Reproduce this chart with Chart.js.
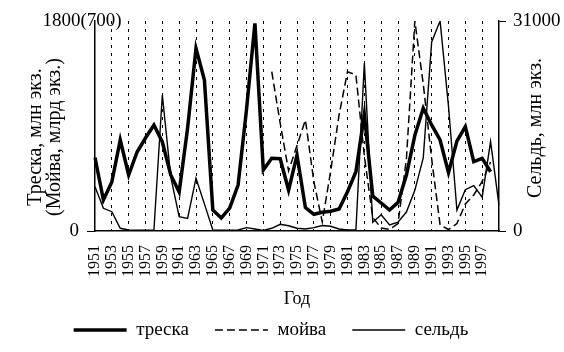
<!DOCTYPE html>
<html>
<head>
<meta charset="utf-8">
<script src="https://cdn.jsdelivr.net/npm/chart.js@4/dist/chart.umd.min.js"></script>
<style>
  html, body { margin: 0; padding: 0; background: #fff; }
  #wrap { width: 564px; height: 352px; }
</style>
</head>
<body>
<div id="wrap"><canvas id="chart" width="564" height="352"></canvas></div>
<script>
// years on the x axis
const years = [1951, 1952, 1953, 1954, 1955, 1956, 1957, 1958, 1959, 1960,
               1961, 1962, 1963, 1964, 1965, 1966, 1967, 1968, 1969, 1970,
               1971, 1972, 1973, 1974, 1975, 1976, 1977, 1978, 1979, 1980,
               1981, 1982, 1983, 1984, 1985, 1986, 1987, 1988, 1989, 1990,
               1991, 1992, 1993, 1994, 1995, 1996, 1997, 1998, 1999];

// треска, млн экз. (left axis 0..1800)
const cod = [630, 266, 420, 780, 480, 677, 797, 908, 763, 480,
             334, 880, 1565, 1294, 180, 111, 197, 394, 1040, 1780,
             523, 623, 620, 351, 651, 200, 143, 160, 170, 189,
             337, 508, 1000, 300, 240, 180, 245, 480, 820, 1052,
             909, 780, 500, 770, 894, 594, 623, 508, null];

// мойва, млрд экз. (left axis, 0..700 in brackets)
const capelin = [null, null, null, null, null, null, null, null, null, null,
                 null, null, null, null, null, null, null, null, null, null,
                 null, 531, 360, 200, 285, 370, 165, 30, 200, 387,
                 531, 520, 250, 45, 10, 5, 25, 240, 700, 490,
                 240, 20, 5, 25, 90, 120, 165, 230, null];

// сельдь, млн экз. (right axis 0..31000)
const herring = [6540, 3350, 2850, 400, 150, 100, 100, 100, 20070, 8000,
                 2110, 1870, 7800, 4000, 150, 100, 100, 150, 500, 300,
                 100, 400, 990, 780, 400, 300, 500, 800, 700, 300,
                 150, 150, 24750, 1300, 2400, 900, 1300, 2800, 6000, 10800,
                 27900, 31000, 18400, 3100, 6100, 6700, 5000, 13200, 3800];

const codMax = 1800;
const capelinMax = 700;
const herringMax = 31000;

const serif = '"Liberation Serif", "Times New Roman", serif';
Chart.defaults.font.family = serif;
Chart.defaults.color = '#000';

// texts that the axes can't place themselves
const axisText = {
  id: 'axisText',
  afterDraw(chart) {
    const { ctx, scales } = chart;
    ctx.save();
    ctx.fillStyle = '#000';
    ctx.textAlign = 'center';
    ctx.textBaseline = 'middle';
    ctx.font = '19px ' + serif;
    ctx.fillText('1800(700)', 82, scales.y.getPixelForValue(codMax));

    ctx.font = '20px ' + serif;
    ctx.save();
    ctx.translate(36, 137);
    ctx.rotate(-Math.PI / 2);
    ctx.fillText('Треска, млн экз.', 0, 0);
    ctx.fillText('(Мойва, млрд экз.)', 0, 19);
    ctx.restore();

    ctx.save();
    ctx.translate(536, 128);
    ctx.rotate(-Math.PI / 2);
    ctx.fillText('Сельдь, млн экз.', 0, 0);
    ctx.restore();
    ctx.restore();
  }
};

// legend sits a bit left of the canvas centre in the original
const legendShift = {
  id: 'legendShift',
  afterLayout(chart) {
    chart.legend.left -= 11;
    chart.legend.right -= 11;
  }
};

new Chart(document.getElementById('chart'), {
  type: 'line',
  data: {
    labels: years,
    datasets: [
      { label: 'треска', data: cod, yAxisID: 'y', borderColor: '#000', borderWidth: 3.5,
        pointRadius: 0, tension: 0 },
      { label: 'мойва', data: capelin, yAxisID: 'yc', borderColor: '#000', borderWidth: 1.5,
        borderDash: [8, 4], pointRadius: 0, tension: 0 },
      { label: 'сельдь', data: herring, yAxisID: 'y2', borderColor: '#000', borderWidth: 1.4,
        pointRadius: 0, tension: 0 }
    ]
  },
  options: {
    responsive: false,
    animation: false,
    layout: { padding: { left: 0, right: 0, top: 21, bottom: 2.5 } },
    plugins: {
      legend: {
        position: 'bottom',
        labels: {
          usePointStyle: true, pointStyle: 'line', pointStyleWidth: 53,
          font: { size: 19 }, padding: 26, color: '#000',
          generateLabels: chart => Chart.defaults.plugins.legend.labels.generateLabels(chart)
            .map((l, i) => ({
              ...l,
              lineDash: chart.data.datasets[i].borderDash || [],
              lineWidth: chart.data.datasets[i].borderWidth,
              strokeStyle: '#000'
            }))
        }
      },
      tooltip: { enabled: false }
    },
    scales: {
      x: {
        ticks: {
          autoSkip: false, minRotation: 90, maxRotation: 90, padding: 14,
          font: { size: 16 },
          callback: (v, i) => (i % 2 === 0 && i < 48) ? years[i] : ''
        },
        grid: {
          drawTicks: false, lineWidth: 1,
          color: c => (c.index % 2 === 0 && c.index > 0 && c.index < 48) ? '#000' : 'rgba(0,0,0,0)'
        },
        border: { display: true, color: '#000', width: 1.5, dash: [3, 5] },
        title: { display: true, text: 'Год', font: { size: 18 }, padding: { top: 0, bottom: -16 } },
        afterFit: s => { s.height = 63.5; }
      },
      y: {
        position: 'left', min: 0, max: codMax,
        afterBuildTicks: s => { s.ticks = [{ value: 0 }, { value: codMax }]; },
        ticks: { padding: 8, font: { size: 19 }, callback: v => v === 0 ? '0' : '' },
        grid: {
          drawOnChartArea: false, tickLength: 8,
          color: c => (c.tick && c.tick.value === 0) ? '#000' : 'rgba(0,0,0,0)'
        },
        border: { color: '#000', width: 1.5 },
        afterFit: s => { s.width = 95; }
      },
      yc: { display: false, min: 0, max: capelinMax },
      y2: {
        position: 'right', min: 0, max: herringMax,
        afterBuildTicks: s => { s.ticks = [{ value: 0 }, { value: herringMax }]; },
        ticks: { padding: 7, font: { size: 19 }, callback: v => String(v) },
        grid: { drawOnChartArea: false, tickLength: 7, color: '#000' },
        border: { color: '#000', width: 1.5 },
        afterFit: s => { s.width = 65; }
      }
    }
  },
  plugins: [axisText, legendShift]
});
</script>
</body>
</html>
